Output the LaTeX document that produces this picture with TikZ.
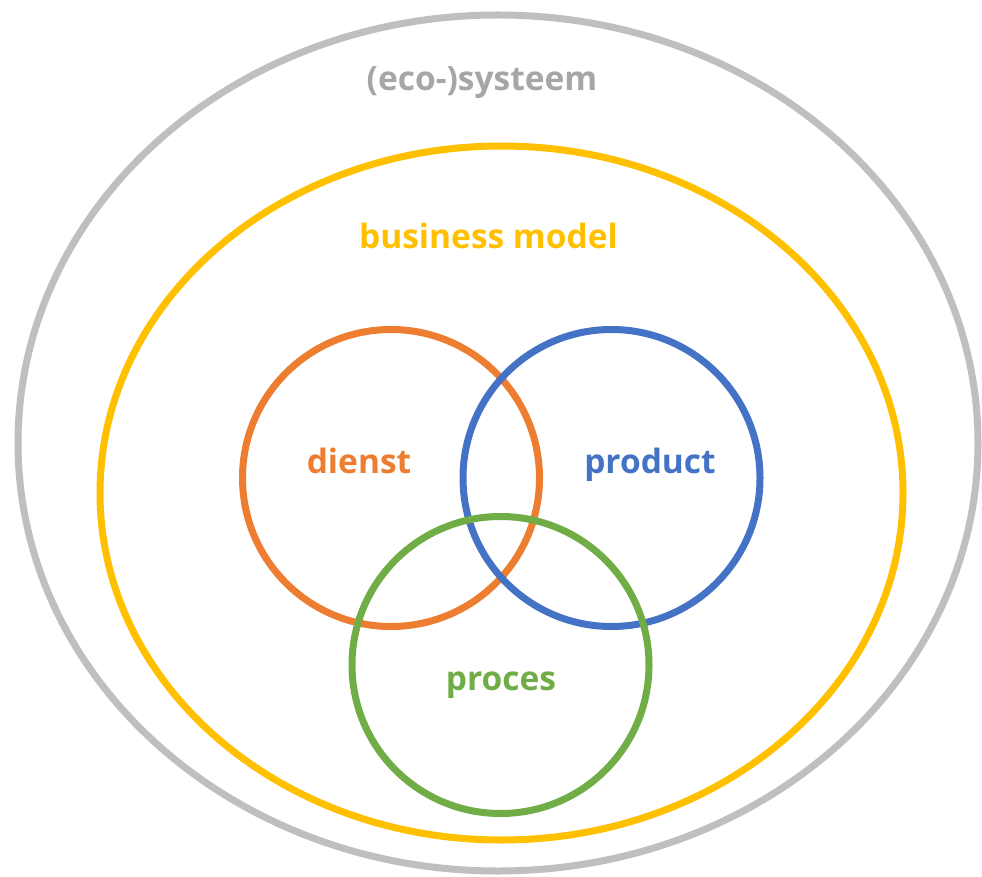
\documentclass[tikz,border=0pt]{standalone}
\usepackage{fontspec}
\setmainfont{Open Sans}[BoldFont={Open Sans Bold}]
\usetikzlibrary{shapes.geometric}
\definecolor{cgray}{HTML}{BFBFBF}
\definecolor{cgraytext}{HTML}{A6A6A6}
\definecolor{cyellow}{HTML}{FFC000}
\definecolor{corange}{HTML}{ED7D31}
\definecolor{cblue}{HTML}{4472C4}
\definecolor{cgreen}{HTML}{70AD47}
\begin{document}
\begin{tikzpicture}[x=1pt,y=-1pt,
  ring/.style={draw=#1,line width=7pt,inner sep=0pt,outer sep=0pt},
  vcircle/.style={ring=#1,circle,minimum size=297pt},
  lbl/.style={text=#1,font=\bfseries\fontsize{33.5}{36}\selectfont,anchor=base,inner sep=0pt}]
\useasboundingbox (0,0) rectangle (982,877);
\fill[white] (0,0) rectangle (982,877);
\node[ring=cgray,ellipse,minimum width=960pt,minimum height=856pt] (eco) at (498,443) {};
\node[ring=cyellow,ellipse,minimum width=803pt,minimum height=694pt] (bm) at (501.5,493) {};
\node[vcircle=corange] (dienst) at (391,478) {};
\node[vcircle=cblue] (product) at (611.5,478) {};
\node[vcircle=cgreen] (proces) at (500.5,665) {};
\node[lbl=cgraytext] (tEco) at (482,91) {(eco-)systeem};
\node[lbl=cyellow] (tBm) at (488.5,249) {business model};
\node[lbl=corange] (tDienst) at (359,473) {dienst};
\node[lbl=cblue] (tProduct) at (650,473) {product};
\node[lbl=cgreen] (tProces) at (501,690) {proces};
\end{tikzpicture}
\end{document}
